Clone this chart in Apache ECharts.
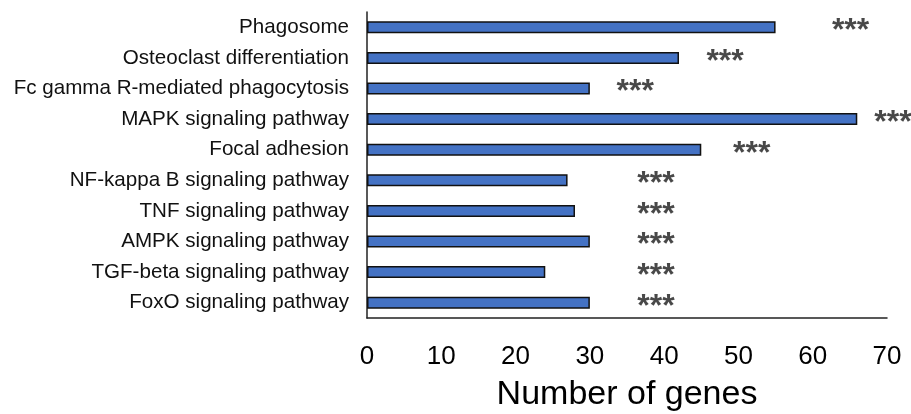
<!DOCTYPE html>
<html>
<head>
<meta charset="utf-8">
<title>KEGG pathways</title>
<script src="https://cdn.jsdelivr.net/npm/echarts@6/dist/echarts.min.js"></script>
<style>
  html, body { margin: 0; padding: 0; background: #fff; }
  #chart { width: 911px; height: 414px; }
</style>
</head>
<body>
<div id="chart"></div>
<script>
// Enriched KEGG pathways and the number of genes in each
const pathways = [
  'Phagosome',
  'Osteoclast differentiation',
  'Fc gamma R-mediated phagocytosis',
  'MAPK signaling pathway',
  'Focal adhesion',
  'NF-kappa B signaling pathway',
  'TNF signaling pathway',
  'AMPK signaling pathway',
  'TGF-beta signaling pathway',
  'FoxO signaling pathway'
];
const geneCounts = [55, 42, 30, 66, 45, 27, 28, 30, 24, 30];

// Significance marks and where they sit along the gene-count axis
const sigMarks = ['***', '***', '***', '***', '***', '***', '***', '***', '***', '***'];
const sigMarkX = [65.1, 48.2, 36.1, 70.8, 51.8, 38.9, 38.9, 38.9, 38.9, 38.9];

const xTicks = { min: 0, max: 70, interval: 10 };

const chart = echarts.init(document.getElementById('chart'), null, { renderer: 'canvas' });

const font = '"Liberation Sans", Arial, Helvetica, sans-serif';

chart.setOption({
  animation: false,
  backgroundColor: '#ffffff',
  grid: {
    left: 367, right: 24, top: 12, bottom: 96,
    containLabel: false,
    outerBoundsMode: 'none'
  },
  xAxis: {
    type: 'value',
    min: xTicks.min,
    max: xTicks.max,
    interval: xTicks.interval,
    name: 'Number of genes',
    nameLocation: 'middle',
    nameGap: 60,
    nameTextStyle: { fontFamily: font, fontSize: 34, color: '#000' },
    axisLine: { show: true, lineStyle: { color: '#222', width: 1.5 } },
    axisTick: { show: false },
    splitLine: { show: false },
    axisLabel: { fontFamily: font, fontSize: 26, color: '#000', margin: 26 }
  },
  yAxis: {
    type: 'category',
    data: pathways,
    inverse: true,
    axisLine: { show: true, lineStyle: { color: '#222', width: 1.5 } },
    axisTick: { show: false },
    splitLine: { show: false },
    axisLabel: { fontFamily: font, fontSize: 20.6, color: '#111', margin: 18 }
  },
  series: [
    {
      type: 'bar',
      data: geneCounts,
      barWidth: 12,
      itemStyle: { color: '#4472C4', borderColor: '#111', borderWidth: 1.5 }
    },
    {
      type: 'scatter',
      data: sigMarkX.map((x, i) => [x, pathways[i]]),
      symbolSize: 1,
      clip: false,
      itemStyle: { color: 'rgba(0,0,0,0)' },
      silent: true,
      label: {
        show: true,
        position: 'inside',
        formatter: (p) => sigMarks[p.dataIndex],
        fontFamily: font,
        fontWeight: 'bold',
        fontSize: 32,
        color: '#1a1a1a',
        offset: [0, 4]
      }
    }
  ]
});
</script>
</body>
</html>
